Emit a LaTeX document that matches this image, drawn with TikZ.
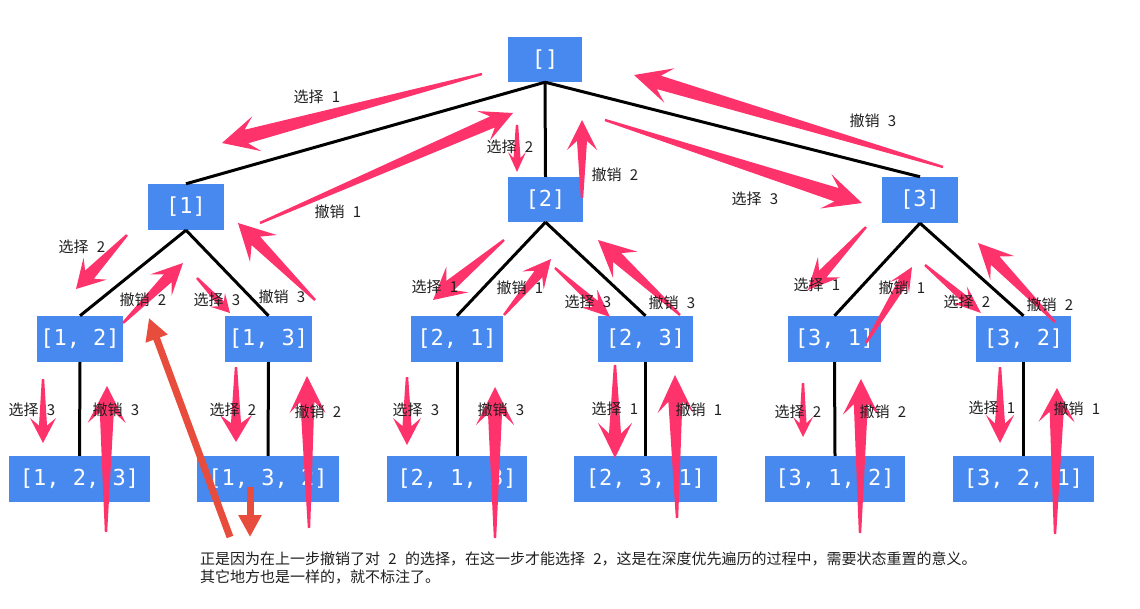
\documentclass[tikz,border=0pt]{standalone}
\usepackage{fontspec}
\setmainfont{Noto Sans CJK SC}
\newfontfamily\monofnt{DejaVu Sans Mono}
\usetikzlibrary{calc,arrows.meta}
\definecolor{boxblue}{RGB}{72,137,240}
\definecolor{apink}{RGB}{255,51,108}
\definecolor{ared}{RGB}{232,76,61}
\newcommand\gap{\hspace{0.55em}}
% #1 name, #2 tail, #3 tip, #4 head half-width, #5 head length, #6 shaft half-width
\newcommand\fatarrow[6]{%
  \coordinate (#1-t) at #2;
  \coordinate (#1-h) at #3;
  \pgfmathsetlengthmacro\fajd{0.7*#5}%
  \coordinate (fa-b) at ($(#1-h)!#5!(#1-t)$);
  \coordinate (fa-j) at ($(#1-h)!\fajd!(#1-t)$);
  \fill[apink] ($(#1-t)!1.2pt!90:(#1-h)$) -- ($(fa-j)!#6!90:(#1-h)$) -- ($(fa-b)!#4!90:(#1-h)$) -- (#1-h) -- ($(fa-b)!#4!-90:(#1-h)$) -- ($(fa-j)!#6!-90:(#1-h)$) -- ($(#1-t)!1.2pt!-90:(#1-h)$) -- cycle;
}
\tikzset{
  box/.style={fill=boxblue, text=white, font=\monofnt\fontsize{22}{22}\selectfont, minimum height=46pt, inner sep=0pt},
  lbl/.style={font=\fontsize{15}{18}\selectfont, text=black!88, inner sep=0pt},
  note/.style={font=\fontsize{15}{18}\selectfont, text=black!88, inner sep=0pt, anchor=base west},
  tree/.style={line width=3pt},
  redarrow/.style={draw=ared, line width=7pt, -{Triangle[length=22pt,width=22pt]}},
}
\begin{document}
\begin{tikzpicture}[x=1pt,y=-1pt]
\useasboundingbox (0,0) rectangle (1140,609);
% boxes
\node[box, minimum width=74pt, minimum height=45pt] (r) at (545,59.5) {[]};
\node[box, minimum width=76pt] (n1) at (186,207) {[1]};
\node[box, minimum width=75pt, minimum height=45pt] (n2) at (545.5,199.5) {[2]};
\node[box, minimum width=76pt] (n3) at (920,200) {[3]};
\node[box, minimum width=86pt] (n12) at (80,339) {[1, 2]};
\node[box, minimum width=87pt] (n13) at (268.5,339) {[1, 3]};
\node[box, minimum width=92pt] (n21) at (457,339) {[2, 1]};
\node[box, minimum width=95pt] (n23) at (645.5,339) {[2, 3]};
\node[box, minimum width=93pt] (n31) at (834.5,339) {[3, 1]};
\node[box, minimum width=95pt] (n32) at (1023.5,339) {[3, 2]};
\node[box, minimum width=141pt] (n123) at (79.5,479) {[1, 2, 3]};
\node[box, minimum width=142pt] (n132) at (268,479) {[1, 3, 2]};
\node[box, minimum width=140pt] (n213) at (457,479) {[2, 1, 3]};
\node[box, minimum width=143pt] (n231) at (645.5,479) {[2, 3, 1]};
\node[box, minimum width=140pt] (n312) at (835,479) {[3, 1, 2]};
\node[box, minimum width=141pt] (n321) at (1023.5,479) {[3, 2, 1]};
% tree edges
\draw[tree] (r.south) -- (n1.north);
\draw[tree] (r.south) -- (n2.north);
\draw[tree] (r.south) -- (n3.north);
\draw[tree] (n1.south) -- (n12.north);
\draw[tree] (n1.south) -- (n13.north);
\draw[tree] (n2.south) -- (n21.north);
\draw[tree] (n2.south) -- (n23.north);
\draw[tree] (n3.south) -- (n31.north);
\draw[tree] (n3.south) -- (n32.north);
\draw[tree] (n12.south) -- (n123.north);
\draw[tree] (n13.south) -- (n132.north);
\draw[tree] (n21.south) -- (n213.north);
\draw[tree] (n23.south) -- (n231.north);
\draw[tree] (n31.south) -- (n312.north);
\draw[tree] (n32.south) -- (n321.north);
% pink arrows, level 0-1
\fatarrow{a1}{(482,74)}{(222,143)}{18pt}{36pt}{7pt}
\fatarrow{a2}{(260,223)}{(513,113)}{16pt}{32pt}{6pt}
\fatarrow{a3}{(517,125)}{(517,172)}{9pt}{20pt}{3.5pt}
\fatarrow{a4}{(582,198)}{(582,120)}{15pt}{30pt}{5pt}
\fatarrow{a5}{(605,120)}{(862,203)}{18pt}{38pt}{7pt}
\fatarrow{a6}{(943,167)}{(634,75)}{18pt}{37pt}{7pt}
% level 1-2
\fatarrow{b1}{(127,235)}{(76,289)}{16pt}{28pt}{6pt}
\fatarrow{b2}{(123,323)}{(183,263)}{15pt}{31pt}{5.5pt}
\fatarrow{b3}{(197,278)}{(230,313)}{10pt}{18pt}{3.5pt}
\fatarrow{b4}{(315,300)}{(238,223)}{19pt}{36pt}{6pt}
\fatarrow{c1}{(504,240)}{(433,300)}{17pt}{32pt}{6pt}
\fatarrow{c2}{(504,315)}{(551,259)}{14pt}{28pt}{5pt}
\fatarrow{c3}{(555,268)}{(610,317)}{12pt}{28pt}{4pt}
\fatarrow{c4}{(680,315)}{(598,240)}{18pt}{37pt}{6pt}
\fatarrow{d1}{(866,227)}{(808,290)}{15pt}{31pt}{5pt}
\fatarrow{d2}{(866,343)}{(912,267)}{11pt}{24pt}{5pt}
\fatarrow{d3}{(925,265)}{(981,313)}{11pt}{28pt}{4pt}
\fatarrow{d4}{(1055,322)}{(978,243)}{17pt}{35pt}{6pt}
% level 2-3
\fatarrow{e1}{(43,379)}{(43,443)}{13pt}{25pt}{4pt}
\fatarrow{e2}{(106,532)}{(107,386)}{19pt}{37pt}{7pt}
\fatarrow{e3}{(236,367)}{(236,442)}{16pt}{27pt}{5pt}
\fatarrow{e4}{(309,528)}{(307,376)}{18pt}{37pt}{7pt}
\fatarrow{e5}{(407,377)}{(407,445)}{14pt}{27pt}{4.5pt}
\fatarrow{e6}{(495,538)}{(495,387)}{19pt}{38pt}{7pt}
\fatarrow{f1}{(615,365)}{(615,458)}{17pt}{35pt}{6pt}
\fatarrow{f2}{(677,518)}{(675,375)}{18pt}{38pt}{7pt}
\fatarrow{f3}{(803,383)}{(803,437)}{10pt}{20pt}{3.5pt}
\fatarrow{f4}{(860,533)}{(861,379)}{18pt}{36pt}{7pt}
\fatarrow{f5}{(1000,367)}{(1000,443)}{14pt}{28pt}{5pt}
\fatarrow{f6}{(1055,534)}{(1057,388)}{18pt}{34pt}{7pt}
% red arrows
\coordinate (r1-t) at (230,537);
\coordinate (r1-h) at (149,318);
\coordinate (r2-t) at (250,487);
\coordinate (r2-h) at (250,537);
\draw[redarrow] (r1-t) -- (r1-h);
\draw[redarrow] (r2-t) -- (r2-h);
% labels
\node[lbl] (l1) at (317,97) {选择\gap 1};
\node[lbl] (l2) at (338,212) {撤销\gap 1};
\node[lbl] (l3) at (510,147) {选择\gap 2};
\node[lbl] (l4) at (615,175) {撤销\gap 2};
\node[lbl] (l5) at (755,199) {选择\gap 3};
\node[lbl] (l6) at (873,121) {撤销\gap 3};
\node[lbl] (m1) at (82,247) {选择\gap 2};
\node[lbl] (m2) at (143,300) {撤销\gap 2};
\node[lbl] (m3) at (217,300) {选择\gap 3};
\node[lbl] (m4) at (282,297) {撤销\gap 3};
\node[lbl] (m5) at (435,287) {选择\gap 1};
\node[lbl] (m6) at (520,288) {撤销\gap 1};
\node[lbl] (m7) at (588,302) {选择\gap 3};
\node[lbl] (m8) at (672,303) {撤销\gap 3};
\node[lbl] (m9) at (817,285) {选择\gap 1};
\node[lbl] (m10) at (902,288) {撤销\gap 1};
\node[lbl] (m11) at (967,302) {选择\gap 2};
\node[lbl] (m12) at (1050,305) {撤销\gap 2};
\node[lbl] (k1) at (32,410) {选择\gap 3};
\node[lbl] (k2) at (116,410) {撤销\gap 3};
\node[lbl] (k3) at (233,410) {选择\gap 2};
\node[lbl] (k4) at (318,412) {撤销\gap 2};
\node[lbl] (k5) at (416,410) {选择\gap 3};
\node[lbl] (k6) at (501,410) {撤销\gap 3};
\node[lbl] (k7) at (615,409) {选择\gap 1};
\node[lbl] (k8) at (699,410) {撤销\gap 1};
\node[lbl] (k9) at (798,412) {选择\gap 2};
\node[lbl] (k10) at (883,412) {撤销\gap 2};
\node[lbl] (k11) at (992,408) {选择\gap 1};
\node[lbl] (k12) at (1077,409) {撤销\gap 1};
% note
\node[note] (t1) at (200,564) {正是因为在上一步撤销了对\gap 2\gap 的选择，在这一步才能选择\gap 2，这是在深度优先遍历的过程中，需要状态重置的意义。};
\node[note] (t2) at (200,582) {其它地方也是一样的，就不标注了。};
\end{tikzpicture}
\end{document}
